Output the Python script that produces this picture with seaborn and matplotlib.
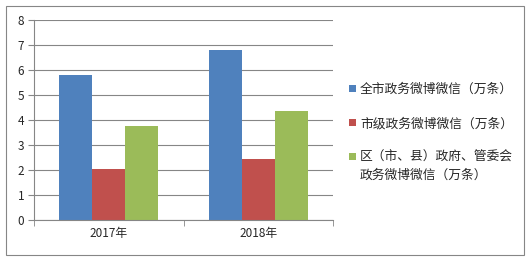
import matplotlib
matplotlib.use("Agg")
import matplotlib.pyplot as plt
import seaborn as sns
import pandas as pd
from matplotlib.patches import Rectangle

years = ["2017年", "2018年"]
series = ["全市政务微博微信（万条）", "市级政务微博微信（万条）", "区（市、县）政府、管委会"]
series3_line2 = "政务微博微信（万条）"
vals_all = [5.8, 6.82]
vals_city = [2.05, 2.45]
vals_district = [3.78, 4.38]
colors = ["#4F81BD", "#C0504D", "#9BBB59"]

rows = []
for s, vs in zip(series, [vals_all, vals_city, vals_district]):
    for y, v in zip(years, vs):
        rows.append({"year": y, "series": s, "value": v})
df = pd.DataFrame(rows)

sns.set_style("white")
plt.rcParams['font.family'] = ['Noto Sans CJK SC', 'DejaVu Sans']

fig = plt.figure(figsize=(5.31, 2.61), dpi=100)
ax = fig.add_axes([34/531, 1-220/261, (333-34)/531, 200/261])

sns.barplot(data=df, x="year", y="value", hue="series", palette=colors,
            width=0.66, ax=ax, saturation=1, legend=True, linewidth=0)

ax.set_xlim(-0.5, 1.5)
ax.set_ylim(0, 8)
ax.set_yticks(range(0, 9))
ax.set_xlabel("")
ax.set_ylabel("")
ax.set_axisbelow(True)
ax.yaxis.grid(True, color="#868686", linewidth=0.8)
for sp in ["top", "right"]:
    ax.spines[sp].set_visible(False)
for sp in ["left", "bottom"]:
    ax.spines[sp].set_color("#868686")
    ax.spines[sp].set_linewidth(0.8)
ax.tick_params(axis="y", which="major", left=True, length=4, color="#868686",
               labelsize=8.5, pad=3)
ax.tick_params(axis="x", which="major", length=0, labelsize=8.5, pad=5)
ax.set_xticks([-0.5, 0.5, 1.5], minor=True)
ax.tick_params(axis="x", which="minor", bottom=True, length=4, color="#868686")

handles, labels = ax.get_legend_handles_labels()
ax.legend_.remove()
leg = fig.legend(handles, labels, loc="upper left", bbox_to_anchor=(344/531, 1-78/261),
                 frameon=False, fontsize=9.2, handlelength=0.55, handleheight=0.55,
                 handletextpad=0.3, labelspacing=1.64, borderaxespad=0)
fig.canvas.draw()
t3 = leg.get_texts()[2]
fig.text(0, 0, series3_line2, fontsize=9.2, ha="left", va="baseline",
         transform=matplotlib.transforms.offset_copy(
             matplotlib.transforms.IdentityTransform(), fig=fig, x=0, y=0))
# place second line directly below third label
bb = t3.get_window_extent(fig.canvas.get_renderer())
fig.texts[-1].set_transform(fig.transFigure)
fig.texts[-1].set_position((bb.x0 / fig.bbox.width, (bb.y0 - 18 + 3) / fig.bbox.height))

fig.patches.append(Rectangle((6/531, 6/261), 518/531, 249/261, transform=fig.transFigure,
                             fill=False, edgecolor="#868686", linewidth=0.8))

fig.savefig("out.png", dpi=100)
